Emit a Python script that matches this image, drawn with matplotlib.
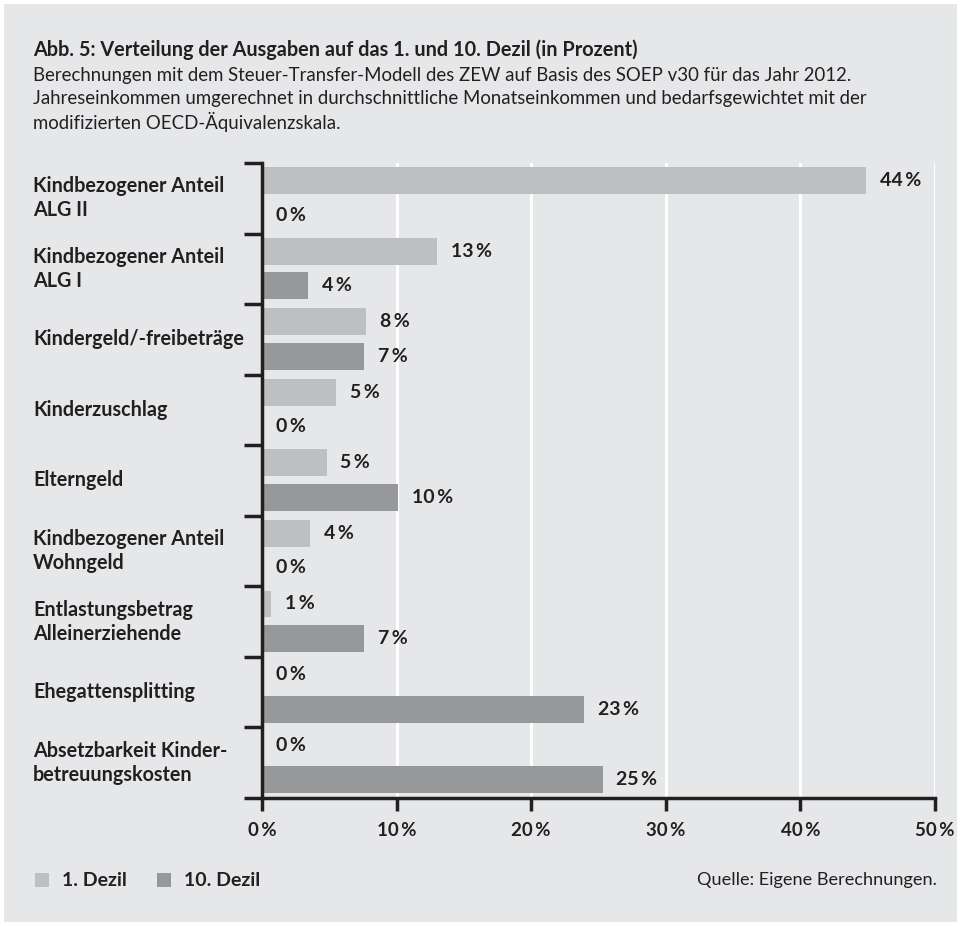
import matplotlib
matplotlib.use("Agg")
import matplotlib.pyplot as plt
from matplotlib.patches import Rectangle
from matplotlib.transforms import blended_transform_factory

plt.rcParams['font.family'] = ['Lato', 'DejaVu Sans']

categories = ["Kindbezogener Anteil\nALG II", "Kindbezogener Anteil\nALG I", "Kindergeld/-freibeträge",
              "Kinderzuschlag", "Elterngeld", "Kindbezogener Anteil\nWohngeld",
              "Entlastungsbetrag\nAlleinerziehende", "Ehegattensplitting",
              "Absetzbarkeit Kinder-\nbetreuungskosten"]
dezil1 = [44.9, 13.0, 7.7, 5.5, 4.8, 3.6, 0.7, 0.0, 0.0]
dezil10 = [0.0, 3.4, 7.6, 0.0, 10.1, 0.0, 7.6, 23.9, 25.3]
labels1 = ["44", "13", "8", "5", "5", "4", "1", "0", "0"]
labels10 = ["0", "4", "7", "0", "10", "0", "7", "23", "25"]
xticks = [0, 10, 20, 30, 40, 50]
series_names = ["1. Dezil", "10. Dezil"]

BG = "#e6e7e9"
C1 = "#bebfc1"
C10 = "#97989a"
TXT = "#231f20"

fig = plt.figure(figsize=(9.61, 9.26), dpi=100)
fig.patch.set_facecolor("white")
fig.patches.append(Rectangle((4/961, 4/926), 953/961, 918/926, transform=fig.transFigure,
                             facecolor=BG, edgecolor="none", zorder=-10))

ax = fig.add_axes([262/961, 1-798/926, (935-262)/961, (798-163)/926])
ax.set_facecolor("none")
n = len(categories)
ax.set_xlim(0, 50)
ax.set_ylim(n, 0)

h = 0.38
for i in range(n):
    ax.barh(i + 0.25, dezil1[i], height=h, color=C1, zorder=2)
    ax.barh(i + 0.74, dezil10[i], height=h, color=C10, zorder=2)
    ax.annotate(labels1[i] + "\u2009%", (dezil1[i], i + 0.25), xytext=(10, 0),
                textcoords="offset points", va="center", ha="left",
                fontsize=14, fontweight="bold", color=TXT)
    ax.annotate(labels10[i] + "\u2009%", (dezil10[i], i + 0.74), xytext=(10, 0),
                textcoords="offset points", va="center", ha="left",
                fontsize=14, fontweight="bold", color=TXT)

# category labels
trans = blended_transform_factory(fig.transFigure, ax.transData)
for i, c in enumerate(categories):
    ax.text(33/961, i + 0.5, c, transform=trans, ha="left", va="center",
            fontsize=14.2, fontweight="bold", color=TXT, linespacing=1.25, clip_on=False)

for x in xticks[1:]:
    ax.axvline(x, color="white", lw=2.2, zorder=1)

ax.set_xticks(xticks)
ax.set_xticklabels([f"{x}\u2009%" for x in xticks], fontsize=13.5, fontweight="bold", color=TXT)
ax.set_yticks(range(n + 1))
ax.set_yticklabels([])
ax.tick_params(axis="x", direction="out", length=9, width=2.5, color=TXT, pad=8)
ax.tick_params(axis="y", direction="out", length=13, width=2.5, color=TXT)
for s in ["top", "right"]:
    ax.spines[s].set_visible(False)
for s in ["left", "bottom"]:
    ax.spines[s].set_linewidth(2.5)
    ax.spines[s].set_color(TXT)
    ax.spines[s].set_zorder(5)

fig.text(33/961, 1-50/926, "Abb. 5: Verteilung der Ausgaben auf das 1. und 10. Dezil (in Prozent)",
         fontsize=14.3, fontweight="bold", color=TXT, va="center", ha="left")
sub = ["Berechnungen mit dem Steuer-Transfer-Modell des ZEW auf Basis des SOEP v30 für das Jahr 2012.",
       "Jahreseinkommen umgerechnet in durchschnittliche Monatseinkommen und bedarfsgewichtet mit der",
       "modifizierten OECD-Äquivalenzskala."]
for k, s in enumerate(sub):
    fig.text(33/961, 1-(75 + 23.5*k)/926, s, fontsize=13.4, color=TXT, va="center", ha="left")

# legend
fig.patches.append(Rectangle((35/961, 1-887/926), 14/961, 14/926, transform=fig.transFigure,
                             facecolor=C1, edgecolor="none"))
fig.text(62/961, 1-880/926, series_names[0], fontsize=14, fontweight="bold", color=TXT, va="center")
fig.patches.append(Rectangle((157/961, 1-887/926), 14/961, 14/926, transform=fig.transFigure,
                             facecolor=C10, edgecolor="none"))
fig.text(184/961, 1-880/926, series_names[1], fontsize=14, fontweight="bold", color=TXT, va="center")
fig.text(937/961, 1-880/926, "Quelle: Eigene Berechnungen.", fontsize=13.1, color=TXT,
         va="center", ha="right")

fig.savefig("out.png", dpi=100, facecolor=fig.get_facecolor())
